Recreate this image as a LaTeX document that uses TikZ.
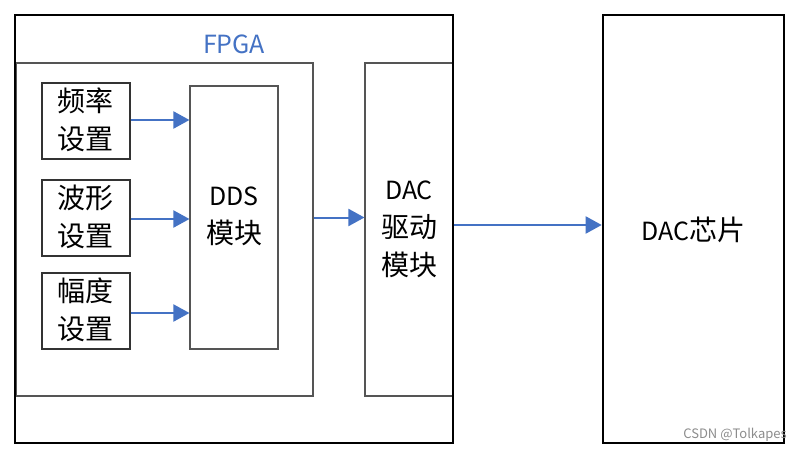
\documentclass[tikz,border=0pt]{standalone}
\usepackage{fontspec}
\setmainfont{Noto Sans CJK SC}
\usetikzlibrary{arrows.meta}
\definecolor{linkblue}{HTML}{4472C4}
\definecolor{boxgray}{HTML}{555555}
\newcommand{\cjz}[1]{{\fontsize{28}{38}\selectfont #1}}
\tikzset{
  thickbox/.style={draw=black, line width=2.6pt, inner sep=0pt, rectangle},
  graybox/.style={draw=boxgray, line width=1.1pt, inner sep=0pt, rectangle},
  smallbox/.style={draw=black!80, line width=1.1pt, inner sep=0pt, rectangle, minimum width=88pt, minimum height=76pt},
  lbl/.style={font=\fontsize{25}{38}\selectfont, align=center, inner sep=0pt},
  arr/.style={draw=linkblue, line width=2pt, -{Triangle[length=16pt,width=17pt]}},
}
\begin{document}
\begin{tikzpicture}[x=1pt,y=-1pt]
\useasboundingbox (0,0) rectangle (805,452);
\fill[white] (0,0) rectangle (805,452);
% inner boxes
\node[graybox, minimum width=297pt, minimum height=333pt] (inner) at (164.5,229.5) {};
\node[graybox, minimum width=88pt, minimum height=333pt] (drv) at (409,229.5) {};
% outer boxes
\node[thickbox, minimum width=438pt, minimum height=428pt] (fpga) at (234,229) {};
\node[thickbox, minimum width=181pt, minimum height=428pt] (chip) at (693.5,229) {};
\node[lbl, text=linkblue] (fpgalbl) at (234,44) {FPGA};
% setting boxes
\node[smallbox] (f1) at (86,121) {};
\node[smallbox] (f2) at (86,218) {};
\node[smallbox] (f3) at (86,311) {};
\node[lbl] (t1) at (85.5,119.5) {\cjz{频率}\\\cjz{设置}};
\node[lbl] (t2) at (85.5,216.5) {\cjz{波形}\\\cjz{设置}};
\node[lbl] (t3) at (85.5,309.5) {\cjz{幅度}\\\cjz{设置}};
% DDS
\node[graybox, minimum width=88pt, minimum height=263pt] (dds) at (234,217.5) {};
\node[lbl] (ddslbl) at (234,216) {DDS\\\cjz{模块}};
\node[lbl] (drvlbl) at (409,229) {DAC\\\cjz{驱动}\\\cjz{模块}};
\node[lbl] (chiplbl) at (693.5,230) {DAC\cjz{芯片}};
% arrows
\draw[arr] ([yshift=1pt]f1.east) -- ([yshift=1pt]f1.east -| dds.west);
\draw[arr] ([yshift=-1pt]f2.east) -- ([yshift=-1pt]f2.east -| dds.west);
\draw[arr] ([yshift=-2pt]f3.east) -- ([yshift=-2pt]f3.east -| dds.west);
\draw[arr] (dds.east -| inner.east) -- (dds.east -| drv.west);
\draw[arr] ([yshift=4.5pt]drv.east) -- ([yshift=4.5pt]drv.east -| chip.west);
% watermark
\node[font=\fontsize{13}{15}\selectfont, text=black!45, inner sep=0pt] (wm) at (735,435) {CSDN @Tolkapes};
\end{tikzpicture}
\end{document}
